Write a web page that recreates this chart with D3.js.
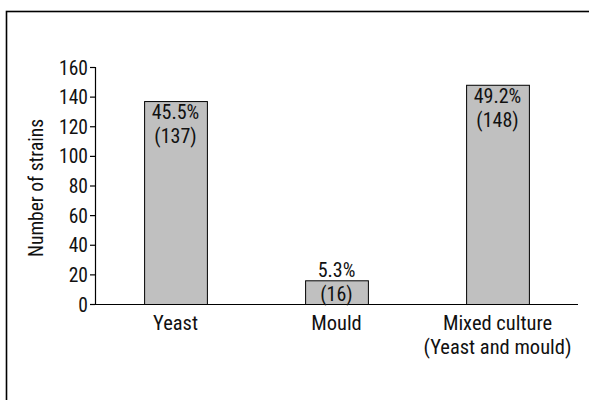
<!DOCTYPE html>
<html>
<head>
<meta charset="utf-8">
<script src="https://cdn.jsdelivr.net/npm/d3@7"></script>
<style>
  body { margin: 0; background: #fff; }
  text { font-family: "Roboto Condensed", Roboto, "Liberation Sans Narrow", sans-serif; fill: #111; }
</style>
</head>
<body>
<svg id="chart" width="589" height="400"></svg>
<script>
// data
const categories = ["Yeast", "Mould", "Mixed culture\n(Yeast and mould)"];
const counts     = [137, 16, 148];
const percents   = ["45.5%", "5.3%", "49.2%"];
const yTicks     = [0, 20, 40, 60, 80, 100, 120, 140, 160];

let svg = d3.select("#chart");

// outer frame
svg.append("rect")
   .attr("x", 6.5).attr("y", 11.5)
   .attr("width", 600).attr("height", 400)
   .attr("fill", "none")
   .attr("stroke", "#000")
   .attr("stroke-width", 1.6);

let x = d3.scaleBand()
          .domain(categories)
          .range([95, 578])
          .paddingInner(0.61)
          .paddingOuter(0.305);

let y = d3.scaleLinear()
          .domain([0, 160])
          .range([304, 67]);

// y axis
let yAxis = svg.append("g")
               .attr("transform", "translate(95,0)")
               .call(d3.axisLeft(y).tickValues(yTicks).tickSize(5).tickPadding(2));
yAxis.attr("font-family", null);
yAxis.select(".domain").attr("stroke", "#000").attr("stroke-width", 1.2).attr("d", "M-5,67.5H0.5V304.5");
yAxis.selectAll(".tick line").attr("stroke", "#000").attr("stroke-width", 1.2);
yAxis.selectAll(".tick text").attr("font-size", 19.5).attr("fill", "#111").attr("dy", "0.36em");

// x axis line
svg.append("line")
   .attr("x1", 95).attr("x2", 578)
   .attr("y1", 304.5).attr("y2", 304.5)
   .attr("stroke", "#000").attr("stroke-width", 1.2);

// y label
svg.append("text")
   .attr("transform", "translate(43,188) rotate(-90)")
   .attr("text-anchor", "middle")
   .attr("font-size", 19.5)
   .text("Number of strains");

// bars
let bars = svg.selectAll(".bar")
              .data(counts)
              .enter()
              .append("g");

bars.append("rect")
    .attr("x", (d, i) => x(categories[i]) + 0.5)
    .attr("y", d => y(d) + 0.5)
    .attr("width", x.bandwidth())
    .attr("height", d => y(0) - y(d))
    .attr("fill", "#c0c0c0")
    .attr("stroke", "#000")
    .attr("stroke-width", 1);

// value labels
bars.each(function (d, i) {
    let cx = x(categories[i]) + x.bandwidth() / 2;
    let base = Math.min(y(d) + 18, y(0) - 27);
    let g = d3.select(this);
    g.append("text")
     .attr("x", cx).attr("y", base)
     .attr("text-anchor", "middle")
     .attr("font-size", 20)
     .text(percents[i]);
    g.append("text")
     .attr("x", cx).attr("y", base + 24)
     .attr("text-anchor", "middle")
     .attr("font-size", 20)
     .text("(" + d + ")");
});

// category labels
categories.forEach(function (c, i) {
    let cx = x(c) + x.bandwidth() / 2;
    c.split("\n").forEach(function (line, j) {
        svg.append("text")
           .attr("x", cx).attr("y", 330 + j * 24)
           .attr("text-anchor", "middle")
           .attr("font-size", 20.5)
           .text(line);
    });
});
</script>
</body>
</html>
